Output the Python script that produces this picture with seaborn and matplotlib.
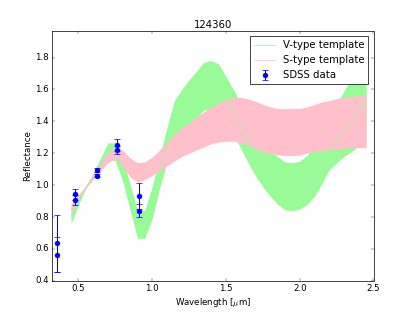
import matplotlib
matplotlib.use("Agg")
import matplotlib.pyplot as plt
import seaborn as sns
import numpy as np

# Template wavelength grid (micron)
wavelength = [0.45, 0.50, 0.55, 0.60, 0.65, 0.70, 0.75, 0.80, 0.85, 0.90,
              0.95, 1.00, 1.05, 1.10, 1.15, 1.20, 1.25, 1.30, 1.35, 1.40,
              1.45, 1.50, 1.55, 1.60, 1.65, 1.70, 1.75, 1.80, 1.85, 1.90,
              1.95, 2.00, 2.05, 2.10, 2.15, 2.20, 2.25, 2.30, 2.35, 2.40, 2.45]

# V-type template: central curve and envelope
v_line = [0.80, 0.90, 0.985, 1.055, 1.13, 1.21, 1.21, 1.10, 0.925, 0.755,
          0.755, 0.89, 1.08, 1.25, 1.40, 1.47, 1.52, 1.57, 1.62, 1.63,
          1.61, 1.54, 1.46, 1.37, 1.28, 1.20, 1.13, 1.07, 1.03, 0.995,
          0.99, 1.00, 1.03, 1.08, 1.15, 1.22, 1.28, 1.34, 1.40, 1.47, 1.53]
v_low = [0.755, 0.875, 0.98, 1.035, 1.09, 1.155, 1.155, 1.025, 0.845, 0.667,
         0.667, 0.79, 0.98, 1.14, 1.27, 1.34, 1.38, 1.425, 1.47, 1.48,
         1.46, 1.40, 1.32, 1.23, 1.14, 1.06, 0.99, 0.93, 0.88, 0.845,
         0.84, 0.85, 0.88, 0.93, 1.01, 1.095, 1.14, 1.18, 1.21, 1.245, 1.28]
v_high = [0.845, 0.925, 0.99, 1.075, 1.17, 1.265, 1.265, 1.175, 1.005, 0.843,
          0.843, 0.99, 1.18, 1.36, 1.53, 1.60, 1.66, 1.715, 1.77, 1.78,
          1.76, 1.68, 1.60, 1.51, 1.42, 1.34, 1.27, 1.21, 1.18, 1.145,
          1.14, 1.15, 1.185, 1.25, 1.33, 1.42, 1.51, 1.59, 1.67, 1.74, 1.80]

# S-type template mean and spread
s_mean = [0.848, 0.924, 0.985, 1.055, 1.115, 1.175, 1.203, 1.17, 1.11, 1.08,
          1.09, 1.118, 1.155, 1.195, 1.235, 1.27, 1.295, 1.325, 1.35, 1.375,
          1.393, 1.405, 1.413, 1.408, 1.395, 1.378, 1.358, 1.345, 1.335, 1.332,
          1.333, 1.335, 1.345, 1.358, 1.368, 1.375, 1.383, 1.39, 1.395, 1.398, 1.40]
s_std = [0.035, 0.017, 0.005, 0.015, 0.025, 0.035, 0.033, 0.05, 0.06, 0.06,
         0.055, 0.058, 0.065, 0.075, 0.085, 0.09, 0.095, 0.105, 0.11, 0.115,
         0.123, 0.13, 0.138, 0.143, 0.145, 0.148, 0.148, 0.145, 0.145, 0.147,
         0.148, 0.145, 0.145, 0.148, 0.153, 0.155, 0.158, 0.16, 0.16, 0.163, 0.165]

# SDSS photometry (u, g, r, i, z; two observations)
sdss_wl = [0.3543, 0.3543, 0.4770, 0.4770, 0.6231, 0.6231, 0.7625, 0.7625, 0.9134, 0.9134]
sdss_refl = [0.634, 0.563, 0.942, 0.907, 1.095, 1.059, 1.251, 1.220, 0.932, 0.840]
sdss_err = [0.18, 0.11, 0.033, 0.031, 0.01, 0.01, 0.036, 0.025, 0.079, 0.04]

title = "124360"

plt.style.use("classic")
fig, ax = plt.subplots(figsize=(415 / 52, 312 / 52), dpi=52)
fig.patch.set_facecolor("white")
fig.subplots_adjust(left=0.125, right=0.9, bottom=0.1, top=0.9)

wl = np.array(wavelength)
sm, ss = np.array(s_mean), np.array(s_std)

ax.fill_between(wl, v_low, v_high, color="palegreen", linewidth=0)
sns.lineplot(x=wl, y=v_line, color="palegreen", linewidth=1, label="V-type template",
             ax=ax, sort=False, errorbar=None)
ax.fill_between(wl, sm - ss, sm + ss, color="pink", linewidth=0)
sns.lineplot(x=wl, y=sm, color="pink", linewidth=1, label="S-type template",
             ax=ax, sort=False, errorbar=None)

ax.errorbar(sdss_wl, sdss_refl, yerr=sdss_err, fmt="o", color="b", ecolor="b",
            mec="b", elinewidth=1.4, capsize=4, capthick=1.0, markersize=7,
            label="SDSS data")

ax.set_xlim(0.32, 2.5)
ax.set_ylim(0.4, 1.965)
ax.set_yticks([0.4, 0.6, 0.8, 1.0, 1.2, 1.4, 1.6, 1.8])
ax.set_xticks([0.5, 1.0, 1.5, 2.0, 2.5])
ax.tick_params(labelsize=12)
ax.set_xlabel(r"Wavelength [$\mu$m]", fontsize=12)
ax.set_ylabel("Reflectance", fontsize=12)
ax.set_title(title, fontsize=14)
ax.legend(loc="upper right", numpoints=1, fontsize=14, fancybox=False)

fig.savefig("out.png", dpi=52, facecolor="white")
